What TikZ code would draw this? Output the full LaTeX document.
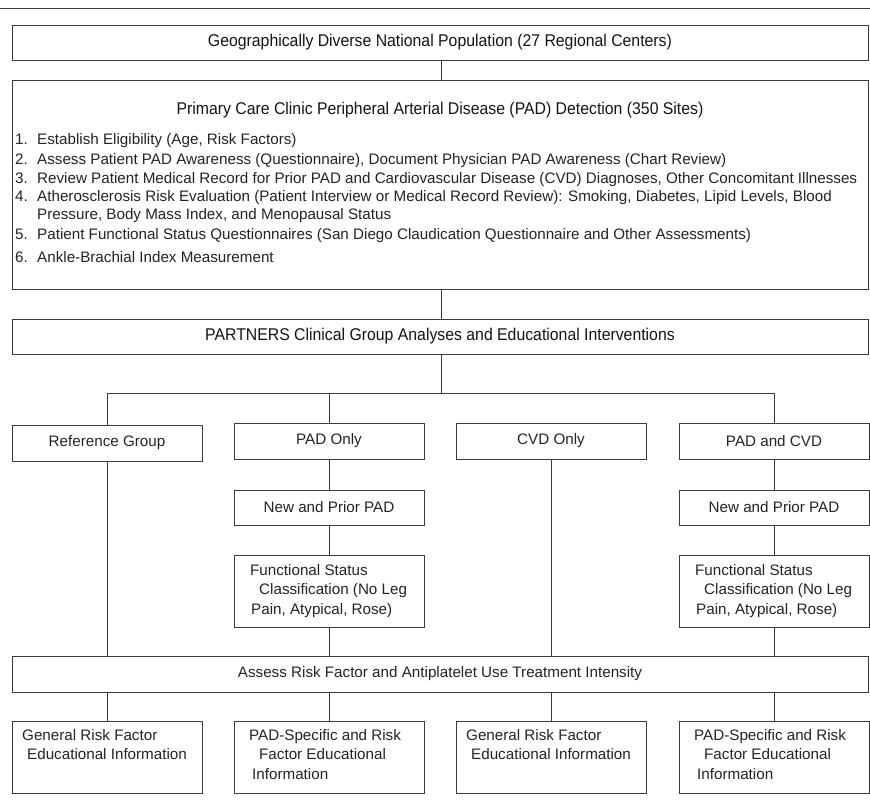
\documentclass[tikz,border=0pt]{standalone}
\usepackage{fontspec}
\setmainfont{Liberation Sans}
\newfontfamily\narrowfont[FakeStretch=0.93]{Liberation Sans}
\newcommand{\itm}[1]{\makebox[22pt][l]{#1}}
\begin{document}
\begin{tikzpicture}[x=1pt,y=-1pt,
  lncol/.style={draw={rgb,255:red,60;green,60;blue,60}, line width=0.9pt},
  box/.style={lncol, rectangle, inner sep=0pt, text={rgb,255:red,35;green,35;blue,35}, font=\fontsize{15.2}{19.5}\selectfont},
  bigbox/.style={box, minimum width=856pt},
  grpbox/.style={box, minimum width=190pt},
  txt/.style={inner sep=0pt, text={rgb,255:red,35;green,35;blue,35}, font=\fontsize{15.2}{19.5}\selectfont},
  ttl/.style={inner sep=0pt, text={rgb,255:red,20;green,20;blue,20}, font=\narrowfont\fontsize{17}{19.5}\selectfont},
  conn/.style={lncol}
]
\useasboundingbox (0,0) rectangle (870,805);
\coordinate (rl) at (0,8);
\coordinate (rr) at (870,8);
\draw[line width=0.9pt, draw={rgb,255:red,60;green,60;blue,60}] (rl) -- (rr);

% top boxes
\node[bigbox, minimum height=35pt] (b1) at (440,42.5) {};
\node[ttl] (t1) at (440,42.5) {Geographically Diverse National Population (27 Regional Centers)};

\node[bigbox, minimum height=209pt] (b2) at (440,184.5) {};
\node[ttl] (t2) at (440,110) {Primary Care Clinic Peripheral Arterial Disease (PAD) Detection (350 Sites)};
\node[txt, anchor=base west] (i1) at (15,145) {\itm{1.}Establish Eligibility (Age, Risk Factors)};
\node[txt, anchor=base west] (i2) at (15,165) {\itm{2.}Assess Patient PAD Awareness (Questionnaire), Document Physician PAD Awareness (Chart Review)};
\node[txt, anchor=base west] (i3) at (15,184) {\itm{3.}Review Patient Medical Record for Prior PAD and Cardiovascular Disease (CVD) Diagnoses, Other Concomitant Illnesses};
\node[txt, anchor=base west] (i4) at (15,202) {\itm{4.}Atherosclerosis Risk Evaluation (Patient Interview or Medical Record Review): Smoking, Diabetes, Lipid Levels, Blood};
\node[txt, anchor=base west] (i4b) at (37,220) {Pressure, Body Mass Index, and Menopausal Status};
\node[txt, anchor=base west] (i5) at (15,240) {\itm{5.}Patient Functional Status Questionnaires (San Diego Claudication Questionnaire and Other Assessments)};
\node[txt, anchor=base west] (i6) at (15,262) {\itm{6.}Ankle-Brachial Index Measurement};

\node[bigbox, minimum height=35pt] (b3) at (440,336.5) {};
\node[ttl] (t3) at (440,336.5) {PARTNERS Clinical Group Analyses and Educational Interventions};

% group boxes
\node[grpbox, minimum height=36pt] (g1) at (107,443) {Reference Group};
\node[grpbox, minimum height=36pt] (g2) at (329,441) {PAD Only};
\node[grpbox, minimum height=36pt] (g3) at (551,441) {CVD Only};
\node[grpbox, minimum height=36pt] (g4) at (774,441) {PAD and CVD};

\node[grpbox, minimum height=35pt] (n2) at (329,507.5) {New and Prior PAD};
\node[grpbox, minimum height=35pt] (n4) at (774,507.5) {New and Prior PAD};

\node[grpbox, minimum height=72pt] (f2) at (329,591) {};
\node[txt, anchor=north west, align=left] (f2t) at (250,564) {Functional Status\\\hspace*{9pt}Classification (No Leg\\\hspace*{1pt}Pain, Atypical, Rose)};
\node[grpbox, minimum height=72pt] (f4) at (774,591) {};
\node[txt, anchor=north west, align=left] (f4t) at (695,564) {Functional Status\\\hspace*{9pt}Classification (No Leg\\\hspace*{1pt}Pain, Atypical, Rose)};

\node[bigbox, minimum height=36pt] (as) at (440,674) {Assess Risk Factor and Antiplatelet Use Treatment Intensity};

% bottom boxes
\node[grpbox, minimum height=72pt] (e1) at (107,757) {};
\node[txt, anchor=north west, align=left] (e1t) at (22,729) {General Risk Factor\\\hspace*{5pt}Educational Information};
\node[grpbox, minimum height=72pt] (e2) at (329,757) {};
\node[txt, anchor=north west, align=left] (e2t) at (249,729) {PAD-Specific and Risk\\\hspace*{10pt}Factor Educational\\\hspace*{3pt}Information};
\node[grpbox, minimum height=72pt] (e3) at (551,757) {};
\node[txt, anchor=north west, align=left] (e3t) at (466,729) {General Risk Factor\\\hspace*{5pt}Educational Information};
\node[grpbox, minimum height=72pt] (e4) at (774,757) {};
\node[txt, anchor=north west, align=left] (e4t) at (694,729) {PAD-Specific and Risk\\\hspace*{10pt}Factor Educational\\\hspace*{3pt}Information};

% connectors
\coordinate (br) at (441,393);
\coordinate (brl) at (107,393);
\coordinate (brm) at (329,393);
\coordinate (brr) at (774,393);
\draw[conn] (b1.south -| br) -- (b2.north -| br);
\draw[conn] (b2.south -| br) -- (b3.north -| br);
\draw[conn] (b3.south -| br) -- (br);
\draw[conn] (brl) -- (brr);
\draw[conn] (brl) -- (g1.north);
\draw[conn] (brm) -- (g2.north);
\draw[conn] (brr) -- (g4.north);
\draw[conn] (g1.south) -- (as.north -| g1.south);
\draw[conn] (g2.south) -- (n2.north);
\draw[conn] (n2.south) -- (f2.north);
\draw[conn] (f2.south) -- (as.north -| f2.south);
\draw[conn] (g3.south) -- (as.north -| g3.south);
\draw[conn] (g4.south) -- (n4.north);
\draw[conn] (n4.south) -- (f4.north);
\draw[conn] (f4.south) -- (as.north -| f4.south);
\draw[conn] (as.south -| e1.north) -- (e1.north);
\draw[conn] (as.south -| e2.north) -- (e2.north);
\draw[conn] (as.south -| e3.north) -- (e3.north);
\draw[conn] (as.south -| e4.north) -- (e4.north);
\end{tikzpicture}
\end{document}
